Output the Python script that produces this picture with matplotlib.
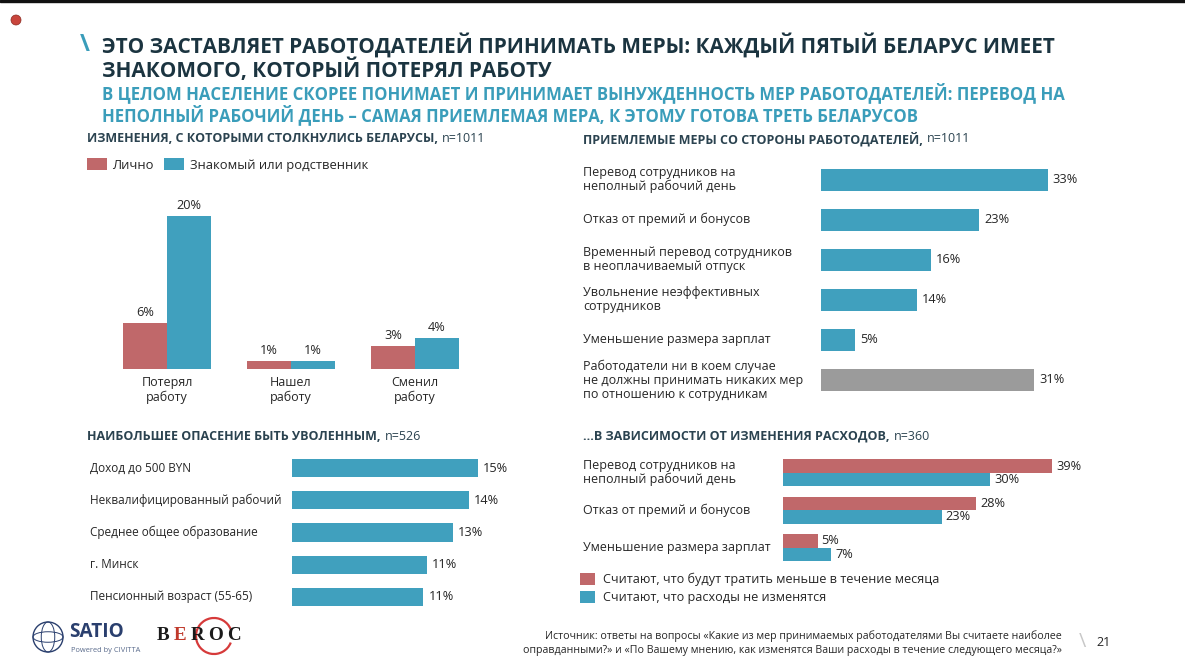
import matplotlib
matplotlib.use("Agg")
import matplotlib.pyplot as plt
from matplotlib.patches import Circle, Ellipse, Arc, Rectangle
from matplotlib.transforms import blended_transform_factory
import numpy as np

# ---------------- data ----------------
changes_categories = ["Потерял\nработу", "Нашел\nработу", "Сменил\nработу"]
changes_personal = [6, 1, 3]
changes_acquaint = [20, 1, 4]
changes_series = ["Лично", "Знакомый или родственник"]

measures_labels = [
    "Перевод сотрудников на\nнеполный рабочий день",
    "Отказ от премий и бонусов",
    "Временный перевод сотрудников\nв неоплачиваемый отпуск",
    "Увольнение неэффективных\nсотрудников",
    "Уменьшение размера зарплат",
    "Работодатели ни в коем случае\nне должны принимать никаких мер\nпо отношению к сотрудникам",
]
measures_values = [33, 23, 16, 14, 5, 31]

fear_labels = [
    "Доход до 500 BYN",
    "Неквалифицированный рабочий",
    "Среднее общее образование",
    "г. Минск",
    "Пенсионный возраст (55-65)",
]
fear_values = [15, 14.3, 13, 10.9, 10.6]

spend_labels = [
    "Перевод сотрудников на\nнеполный рабочий день",
    "Отказ от премий и бонусов",
    "Уменьшение размера зарплат",
]
spend_less = [39, 28, 5]
spend_same = [30, 23, 7]
spend_series = ["Считают, что будут тратить меньше в течение месяца",
                "Считают, что расходы не изменятся"]

# ---------------- style ----------------
RED = "#c0686a"
BLUE = "#40a0be"
GRAY = "#9b9b9b"
TXT = "#262626"
HDR = "#2b4350"
TITLE = "#1b3440"
SUB = "#3a9dba"

plt.rcParams["font.family"] = ["Open Sans", "DejaVu Sans"]

W, H = 1185, 660
fig = plt.figure(figsize=(W / 100, H / 100), dpi=100)
fig.patch.set_facecolor("white")


def pt(px):
    return px * 0.72


def px_ax(x0, y0, x1, y1):
    ax = fig.add_axes([x0 / W, 1 - y1 / H, (x1 - x0) / W, (y1 - y0) / H])
    ax.set_facecolor("none")
    for s in ax.spines.values():
        s.set_visible(False)
    return ax


def ftext(x, y, s, **kw):
    kw.setdefault("va", "center")
    return fig.text(x / W, 1 - y / H, s, **kw)


renderer = fig.canvas.get_renderer()


def header(x, y, bold, normal, size=pt(12.5)):
    t = ftext(x, y, bold, fontweight="bold", color=HDR, fontsize=size)
    bb = t.get_window_extent(renderer)
    ftext(bb.x1 + 4, y, normal, color=HDR, fontsize=size)


# top border and bullet
fig.add_artist(Rectangle((0, 1 - 2 / H), 1, 2 / H, transform=fig.transFigure, color="#111111"))
fig.add_artist(Ellipse((16 / W, 1 - 20 / H), 10 / W, 10 / H, transform=fig.transFigure,
                       color="#c9453c", ec="#8a2a22", lw=0.5))

# titles
ftext(80, 45, "\\", color=SUB, fontsize=pt(24), fontweight="bold")
ftext(102, 45, "ЭТО ЗАСТАВЛЯЕТ РАБОТОДАТЕЛЕЙ ПРИНИМАТЬ МЕРЫ: КАЖДЫЙ ПЯТЫЙ БЕЛАРУС ИМЕЕТ",
      color=TITLE, fontsize=pt(20.8), fontweight="bold")
ftext(102, 70, "ЗНАКОМОГО, КОТОРЫЙ ПОТЕРЯЛ РАБОТУ",
      color=TITLE, fontsize=pt(20.8), fontweight="bold")
ftext(102, 93, "В ЦЕЛОМ НАСЕЛЕНИЕ СКОРЕЕ ПОНИМАЕТ И ПРИНИМАЕТ ВЫНУЖДЕННОСТЬ МЕР РАБОТОДАТЕЛЕЙ: ПЕРЕВОД НА",
      color=SUB, fontsize=pt(16.8), fontweight="bold")
ftext(102, 115, "НЕПОЛНЫЙ РАБОЧИЙ ДЕНЬ – САМАЯ ПРИЕМЛЕМАЯ МЕРА, К ЭТОМУ ГОТОВА ТРЕТЬ БЕЛАРУСОВ",
      color=SUB, fontsize=pt(16.8), fontweight="bold")

LBL = pt(12.5)
VAL = pt(12.8)

# ---------------- chart 1: vertical grouped bars ----------------
header(87, 139, "ИЗМЕНЕНИЯ, С КОТОРЫМИ СТОЛКНУЛИСЬ БЕЛАРУСЫ,", "n=1011")
ax1 = px_ax(105, 185, 477, 369)
x = np.arange(len(changes_categories))
bw = 0.355
b1 = ax1.bar(x - bw / 2, changes_personal, bw, color=RED, label=changes_series[0])
b2 = ax1.bar(x + bw / 2, changes_acquaint, bw, color=BLUE, label=changes_series[1])
ax1.set_xlim(-0.5, 2.5)
ax1.set_ylim(0, 24)
ax1.set_yticks([])
ax1.set_xticks(x)
ax1.set_xticklabels(changes_categories, fontsize=LBL, color=TXT, linespacing=1.15)
ax1.tick_params(axis="x", length=0, pad=5)
for bars, vals in ((b1, changes_personal), (b2, changes_acquaint)):
    for r, v in zip(bars, vals):
        ax1.annotate(f"{v}%", (r.get_x() + r.get_width() / 2, r.get_height()),
                     xytext=(0, 4), textcoords="offset pixels", ha="center", va="bottom",
                     fontsize=VAL, color=TXT)
fig.legend(handles=[b1, b2], labels=changes_series, loc="upper left",
           bbox_to_anchor=(87 / W, 1 - 158 / H), ncol=2, frameon=False,
           fontsize=pt(13), handlelength=1.5, handleheight=1.1, handletextpad=0.45,
           columnspacing=0.8, borderpad=0, borderaxespad=0, labelcolor=TXT)

# ---------------- chart 2: acceptable measures ----------------
header(583, 139, "ПРИЕМЛЕМЫЕ МЕРЫ СО СТОРОНЫ РАБОТОДАТЕЛЕЙ,", "n=1011")
ax2 = px_ax(821, 159.5, 1096, 400)
y2 = np.arange(len(measures_values))
cols2 = [BLUE] * (len(measures_values) - 1) + [GRAY]
bars2 = ax2.barh(y2, measures_values, 0.55, color=cols2)
ax2.set_xlim(0, 40)
ax2.set_ylim(len(measures_values) - 0.5, -0.5)
ax2.set_xticks([]); ax2.set_yticks([])
tr2 = blended_transform_factory(fig.transFigure, ax2.transData)
for i, (lab, v) in enumerate(zip(measures_labels, measures_values)):
    ax2.text(583 / W, i, lab, transform=tr2, ha="left", va="center", fontsize=LBL,
             color=TXT, linespacing=1.1)
    ax2.annotate(f"{v}%", (v, i), xytext=(5, 0), textcoords="offset pixels",
                 ha="left", va="center", fontsize=VAL, color=TXT)

# ---------------- chart 3: fear of being fired ----------------
header(87, 436, "НАИБОЛЬШЕЕ ОПАСЕНИЕ БЫТЬ УВОЛЕННЫМ,", "n=526")
ax3 = px_ax(292, 452, 540, 613)
y3 = np.arange(len(fear_values))
ax3.barh(y3, fear_values, 0.56, color=BLUE)
ax3.set_xlim(0, 20)
ax3.set_ylim(len(fear_values) - 0.5, -0.5)
ax3.set_xticks([]); ax3.set_yticks([])
tr3 = blended_transform_factory(fig.transFigure, ax3.transData)
for i, (lab, v) in enumerate(zip(fear_labels, fear_values)):
    ax3.text(90 / W, i, lab, transform=tr3, ha="left", va="center", fontsize=pt(11.8), color=TXT)
    ax3.annotate(f"{v:.0f}%", (v, i), xytext=(5, 0), textcoords="offset pixels",
                 ha="left", va="center", fontsize=VAL, color=TXT)

# ---------------- chart 4: by expense change ----------------
header(583, 436, "…В ЗАВИСИМОСТИ ОТ ИЗМЕНЕНИЯ РАСХОДОВ,", "n=360")
ax4 = px_ax(783, 454, 1073, 566.5)
y4 = np.arange(len(spend_labels))
bh = 0.36
r4 = ax4.barh(y4 - bh / 2, spend_less, bh, color=RED, label=spend_series[0])
s4 = ax4.barh(y4 + bh / 2, spend_same, bh, color=BLUE, label=spend_series[1])
ax4.set_xlim(0, 42)
ax4.set_ylim(len(spend_labels) - 0.5, -0.5)
ax4.set_xticks([]); ax4.set_yticks([])
tr4 = blended_transform_factory(fig.transFigure, ax4.transData)
for i, lab in enumerate(spend_labels):
    ax4.text(583 / W, i, lab, transform=tr4, ha="left", va="center", fontsize=LBL,
             color=TXT, linespacing=1.1)
for vals, off in ((spend_less, -bh / 2), (spend_same, bh / 2)):
    for i, v in enumerate(vals):
        ax4.annotate(f"{v}%", (v, i + off), xytext=(4, 0), textcoords="offset pixels",
                     ha="left", va="center", fontsize=VAL, color=TXT)
fig.legend(handles=[r4, s4], labels=spend_series, loc="upper left",
           bbox_to_anchor=(580 / W, 1 - 573 / H), ncol=1, frameon=False,
           fontsize=pt(12.6), handlelength=1.2, handleheight=1.1, handletextpad=0.65,
           labelspacing=0.35, borderpad=0, borderaxespad=0, labelcolor=TXT)

# ---------------- footer ----------------
NAVY = "#2a3f6e"
gx, gy, gr = 48 / W, 1 - 637 / H, 15
fig.add_artist(Ellipse((gx, gy), 2 * gr / W, 2 * gr / H, transform=fig.transFigure,
                       fill=False, ec=NAVY, lw=1))
fig.add_artist(Ellipse((gx, gy), 2 * gr * 0.45 / W, 2 * gr / H,
                       transform=fig.transFigure, fill=False, ec=NAVY, lw=0.7))
fig.add_artist(Ellipse((gx, gy), 2 * gr / W, 2 * gr * 0.35 / H,
                       transform=fig.transFigure, fill=False, ec=NAVY, lw=0.7))
ftext(69, 632, "SATIO", color=NAVY, fontsize=pt(19), fontweight="bold")
ftext(71, 650, "Powered by CIVITTA", color="#5a6b8c", fontsize=pt(7.5))
bx = 157
for ch, c in zip("BEROC", ["#1a1a1a", "#c0392b", "#1a1a1a", "#1a1a1a", "#1a1a1a"]):
    t = ftext(bx, 636, ch, color=c, fontsize=pt(19), family=["Liberation Serif", "DejaVu Serif"],
              fontweight="bold")
    bx = t.get_window_extent(renderer).x1 + 4
fig.add_artist(Arc((214 / W, 1 - 636 / H), 36 / W, 36 / H, theta1=35, theta2=325,
                   transform=fig.transFigure, color="#d63a3a", lw=1.6))

ftext(1062, 636, "Источник: ответы на вопросы «Какие из мер принимаемых работодателями Вы считаете наиболее",
      ha="right", color=TXT, fontsize=pt(10.6))
ftext(1062, 651, "оправданными?» и «По Вашему мнению, как изменятся Ваши расходы в течение следующего месяца?»",
      ha="right", color=TXT, fontsize=pt(10.6))
ftext(1082, 642, "\\", color="#c8c8c8", fontsize=pt(20), ha="center")
ftext(1104, 642, "21", color=TXT, fontsize=pt(12.5), ha="center")

fig.savefig("out.png", dpi=100)
